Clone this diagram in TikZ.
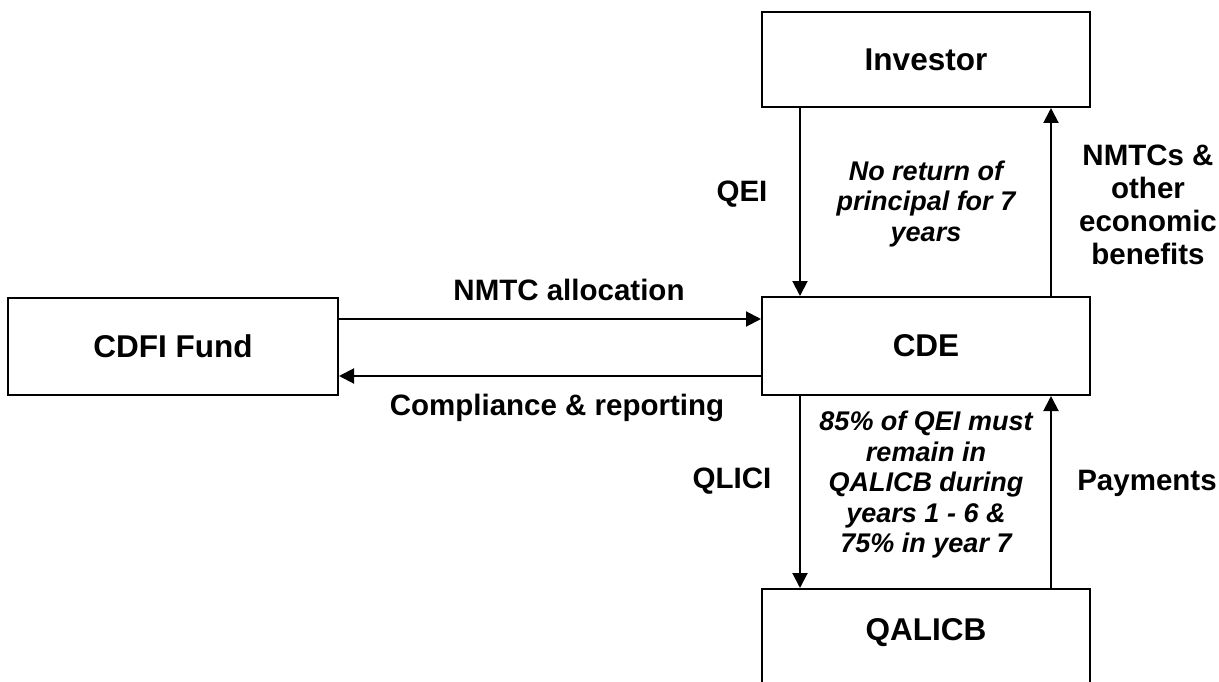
\documentclass[tikz,border=0pt]{standalone}
\usepackage{fontspec}
\setmainfont{Liberation Sans}
\usetikzlibrary{arrows.meta}

\begin{document}
\begin{tikzpicture}[x=1pt, y=-1pt, line width=2pt,
  >={Triangle[length=15pt, width=15pt]},
  box/.style={draw, minimum width=328pt, minimum height=95pt,
    font=\fontsize{31.5}{35}\selectfont\bfseries},
  lbl/.style={align=center, inner sep=0pt,
    font=\fontsize{29.5}{33}\selectfont\bfseries},
  note/.style={align=center, inner sep=0pt,
    font=\fontsize{27}{30.5}\selectfont\bfseries\itshape}]
\useasboundingbox (0,0) rectangle (1219,682);

\node[box] (inv) at (926,59.5) {Investor};
\node[box, minimum height=98pt] (cde) at (926,346) {CDE};
\node[box, minimum width=330pt, minimum height=97pt] (fund) at (173,346) {CDFI Fund};
\node[box, minimum height=130pt, anchor=north] (qal) at (926,588) {};
\node[lbl, font=\fontsize{31.5}{35}\selectfont\bfseries] (qaltxt) at (926,633) {QALICB};

\draw[->] ([xshift=-126pt]inv.south) -- ([xshift=-126pt]cde.north);
\draw[->] ([xshift=125pt]cde.north) -- ([xshift=125pt]inv.south);
\draw[->] ([yshift=27pt]fund.east) -- ([yshift=27pt]cde.west);
\draw[->] ([yshift=-30pt]cde.west) -- ([yshift=-30pt]fund.east);
\draw[->] ([xshift=-126pt]cde.south) -- ([xshift=-126pt]qal.north);
\draw[->] ([xshift=125pt]qal.north) -- ([xshift=125pt]cde.south);

\node[lbl] (qei) at (742,194) {QEI};
\node[note] (noret) at (926,204) {No return of\\principal for 7\\years};
\node[lbl] (nmtcs) at (1148,205) {NMTCs \&\\other\\economic\\benefits};
\node[lbl] (alloc) at (569,290) {NMTC allocation};
\node[lbl] (comply) at (557,408) {Compliance \& reporting};
\node[lbl] (qlici) at (732,481) {QLICI};
\node[note] (remain) at (926,485) {85\% of QEI must\\remain in\\QALICB during\\years 1 - 6 \&\\75\% in year 7};
\node[lbl] (pay) at (1147,483) {Payments};

\end{tikzpicture}
\end{document}
